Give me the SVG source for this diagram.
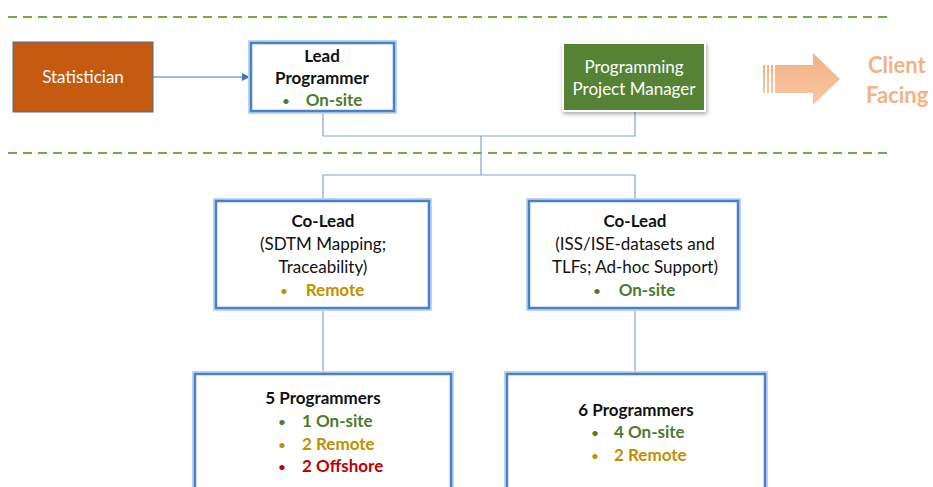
<svg xmlns="http://www.w3.org/2000/svg" width="933" height="487" viewBox="0 0 933 487">
  <defs>
    <style>
      text { font-family: Lato, "Liberation Sans", sans-serif; font-size: 17px; text-anchor: middle; }
      .b { font-weight: bold; fill: #111; }
      .n { fill: #111; }
      .w { fill: #ffffff; }
      .g { fill: #4E7A2F; font-weight: bold; }
      .y { fill: #BF9000; font-weight: bold; }
      .r { fill: #C00000; font-weight: bold; }
      .dot { font-size: 12px; }
      .dash { stroke: #70AD47; stroke-width: 2; stroke-dasharray: 9 6; fill: none; }
      .glow { fill: none; stroke: #BDD7EE; stroke-width: 6; }
      .box { fill: #ffffff; stroke: #4A7FC9; stroke-width: 2.5; }
      .wire { fill: none; stroke: #7FA3DC; stroke-width: 1.2; }
    </style>
    <marker id="arr" markerWidth="8" markerHeight="8" refX="7" refY="4" orient="auto" markerUnits="userSpaceOnUse">
      <path d="M0,0 L8,4 L0,8 z" fill="#4472C4"/>
    </marker>
    <filter id="shadow" x="-10%" y="-10%" width="125%" height="130%">
      <feDropShadow dx="1" dy="2" stdDeviation="2" flood-color="#000" flood-opacity="0.35"/>
    </filter>
    <linearGradient id="orange" x1="0" y1="0" x2="0" y2="1">
      <stop offset="0" stop-color="#F4B183"/>
      <stop offset="1" stop-color="#F8C7A6"/>
    </linearGradient>
  </defs>

  <!-- section dividers -->
  <line class="dash" x1="8" y1="17" x2="890" y2="17"/>
  <line class="dash" x1="8" y1="153" x2="890" y2="153"/>

  <!-- connectors -->
  <g id="connectors">
    <line x1="153" y1="77" x2="249" y2="77" stroke="#4472C4" stroke-width="1" marker-end="url(#arr)"/>
    <polyline class="wire" points="323,112 323,136 635,136 635,112"/>
    <polyline class="wire" points="481,136 481,175"/>
    <polyline class="wire" points="323,200 323,175 635,175 635,200"/>
    <line class="wire" x1="323" y1="308" x2="323" y2="373"/>
    <line class="wire" x1="635" y1="308" x2="635" y2="373"/>
  </g>

  <!-- Statistician -->
  <g id="statistician">
    <rect x="13" y="42" width="140" height="70" fill="#C55A11" stroke="#41719C" stroke-width="1"/>
    <text class="w" x="83" y="83">Statistician</text>
  </g>

  <!-- Lead Programmer -->
  <g id="lead-programmer">
    <rect class="glow" x="251" y="43" width="143" height="68"/>
    <rect class="box" x="251" y="43" width="143" height="68"/>
    <text class="b" x="322" y="62">Lead</text>
    <text class="b" x="322" y="84">Programmer</text>
    <text class="g dot" x="286" y="105">•</text>
    <text class="g" x="334" y="106">On-site</text>
  </g>

  <!-- Programming Project Manager -->
  <g id="project-manager">
    <rect x="563" y="43" width="142" height="68" fill="#548235" stroke="#ffffff" stroke-width="2" filter="url(#shadow)"/>
    <text class="w" x="634" y="73">Programming</text>
    <text class="w" x="634" y="95">Project Manager</text>
  </g>

  <!-- Client facing marker -->
  <g id="client-facing">
    <rect x="763" y="65" width="2" height="28" fill="url(#orange)"/>
    <rect x="767" y="65" width="2" height="28" fill="url(#orange)"/>
    <rect x="771" y="65" width="2" height="28" fill="url(#orange)"/>
    <polygon points="775,65 813,65 813,53 840,79 813,105 813,93 775,93" fill="url(#orange)"/>
    <text x="868" y="73" style="text-anchor:start;font-size:22px;font-weight:bold;fill:#F4B183">Client</text>
    <text x="866" y="103" style="text-anchor:start;font-size:22px;font-weight:bold;fill:#F4B183">Facing</text>
  </g>

  <!-- Co-Lead SDTM -->
  <g id="colead-sdtm">
    <rect class="glow" x="216" y="201" width="213" height="107"/>
    <rect class="box" x="216" y="201" width="213" height="107"/>
    <text class="b" x="323" y="227">Co-Lead</text>
    <text class="n" x="323" y="250">(SDTM Mapping;</text>
    <text class="n" x="323" y="273">Traceability)</text>
    <text class="y dot" x="284" y="295">•</text>
    <text class="y" x="335" y="296">Remote</text>
  </g>

  <!-- Co-Lead ISS/ISE -->
  <g id="colead-iss">
    <rect class="glow" x="529" y="201" width="209" height="107"/>
    <rect class="box" x="529" y="201" width="209" height="107"/>
    <text class="b" x="635" y="227">Co-Lead</text>
    <text class="n" x="635" y="250">(ISS/ISE-datasets and</text>
    <text class="n" x="635" y="273">TLFs; Ad-hoc Support)</text>
    <text class="g dot" x="597" y="295">•</text>
    <text class="g" x="647" y="296">On-site</text>
  </g>

  <!-- Team of 5 -->
  <g id="team-five">
    <rect class="glow" x="195" y="374" width="256" height="120"/>
    <rect class="box" x="195" y="374" width="256" height="120"/>
    <text class="b" x="323" y="404">5 Programmers</text>
    <text class="g dot" x="282" y="426">•</text>
    <text class="g" x="302" y="427" style="text-anchor:start">1 On-site</text>
    <text class="y dot" x="282" y="449">•</text>
    <text class="y" x="302" y="450" style="text-anchor:start">2 Remote</text>
    <text class="r dot" x="282" y="471">•</text>
    <text class="r" x="302" y="472" style="text-anchor:start">2 Offshore</text>
  </g>

  <!-- Team of 6 -->
  <g id="team-six">
    <rect class="glow" x="507" y="374" width="258" height="120"/>
    <rect class="box" x="507" y="374" width="258" height="120"/>
    <text class="b" x="636" y="416">6 Programmers</text>
    <text class="g dot" x="595" y="437">•</text>
    <text class="g" x="614" y="438" style="text-anchor:start">4 On-site</text>
    <text class="y dot" x="595" y="460">•</text>
    <text class="y" x="614" y="461" style="text-anchor:start">2 Remote</text>
  </g>
</svg>
